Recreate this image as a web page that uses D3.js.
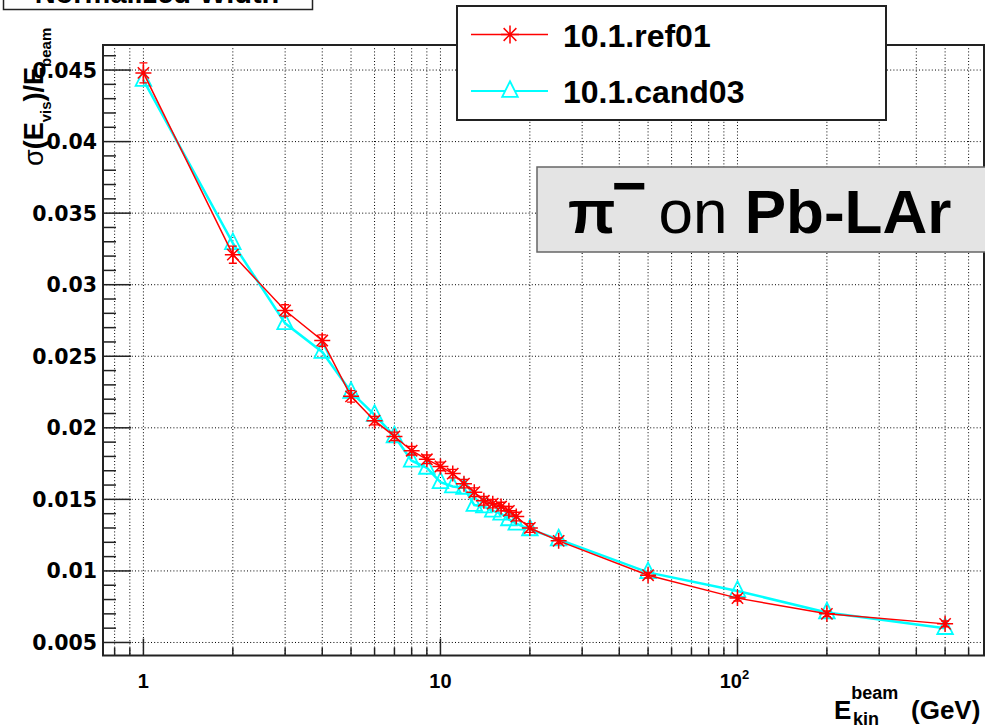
<!DOCTYPE html>
<html><head><meta charset="utf-8">
<script src="https://cdn.jsdelivr.net/npm/d3@7"></script>
<style>body{margin:0;background:#fff}svg{display:block}text{font-family:"Liberation Sans",Arial,sans-serif}</style>
</head><body>
<script>
// ---- data ----
const energies = [1,2,3,4,5,6,7,8,9,10,11,12,13,14,15,16,17,18,20,25,50,100,200,500];
const ref01   = [0.0448,0.0321,0.0282,0.0261,0.0222,0.0205,0.0194,0.0184,0.0178,0.0173,0.0168,0.0161,0.0155,0.0149,0.0147,0.0145,0.0142,0.0138,0.0130,0.0121,0.0097,0.0081,0.0070,0.0063];
const ref01Err= [0.0007,0.0006,0.0004,0.0004,0.0004,0.0003,0.0003,0.0003,0.0003,0.0003,0.0003,0.0003,0.0003,0.0003,0.0003,0.0003,0.0003,0.0003,0.0003,0.0002,0.0002,0.0002,0.0002,0.0002];
const cand03  = [0.0443,0.0329,0.0273,0.0253,0.0225,0.0209,0.0194,0.0177,0.0172,0.0162,0.0159,0.0158,0.0146,0.0145,0.0142,0.0140,0.0136,0.0133,0.0129,0.0122,0.0099,0.0086,0.0071,0.0060];
const seriesNames = ["10.1.ref01","10.1.cand03"];
const yTicks = [0.005,0.01,0.015,0.02,0.025,0.03,0.035,0.04,0.045];
const yTickLabels = ["0.005","0.01","0.015","0.02","0.025","0.03","0.035","0.04","0.045"];
const yMinor = [0.006,0.007,0.008,0.009,0.011,0.012,0.013,0.014,0.016,0.017,0.018,0.019,0.021,0.022,0.023,0.024,0.026,0.027,0.028,0.029,0.031,0.032,0.033,0.034,0.036,0.037,0.038,0.039,0.041,0.042,0.043,0.044,0.046];
const xTicks = [1,10,100];
const xTickBase = ["1","10","10"];
const xTickExp = ["","","2"];
const xMinor = [0.8,0.9,2,3,4,5,6,7,8,9,20,30,40,50,60,70,80,90,200,300,400,500,600];

const W=985,H=728;
const L=103,R=984,T=45,B=655.5;
const svg=d3.select("body").append("svg").attr("width",W).attr("height",H);
const x=d3.scaleLog().domain([0.731,676]).range([L,R]);
const y=d3.scaleLinear().domain([0.00409,0.04675]).range([B,T]);

// title box (cut at top, as in the original)
svg.append("rect").attr("x",3.5).attr("y",-30).attr("width",309).attr("height",39.5)
  .attr("fill","#fff").attr("stroke","#222").attr("stroke-width",1.5);
svg.append("text").attr("x",157).attr("y",3).attr("text-anchor","middle")
  .attr("font-size",29).attr("font-weight","bold").text("Normalized Width");

// grid
const g=svg.append("g");
g.selectAll("line.vg").data(xTicks.concat(xMinor)).enter().append("line")
  .attr("x1",d=>x(d)).attr("x2",d=>x(d)).attr("y1",T).attr("y2",B)
  .attr("stroke","#000").attr("stroke-width",1).attr("stroke-dasharray","1,2.2");
g.selectAll("line.hg").data(yTicks).enter().append("line")
  .attr("y1",d=>y(d)).attr("y2",d=>y(d)).attr("x1",L).attr("x2",R)
  .attr("stroke","#000").attr("stroke-width",1).attr("stroke-dasharray","1,2.2");

// axes ticks
const ax=svg.append("g").attr("stroke","#222").attr("stroke-width",1.5);
ax.selectAll("line.ym").data(yTicks).enter().append("line")
  .attr("x1",L).attr("x2",L+28).attr("y1",d=>y(d)).attr("y2",d=>y(d));
ax.selectAll("line.yn").data(yMinor).enter().append("line")
  .attr("x1",L).attr("x2",L+13).attr("y1",d=>y(d)).attr("y2",d=>y(d));
ax.selectAll("line.xm").data(xTicks).enter().append("line")
  .attr("x1",d=>x(d)).attr("x2",d=>x(d)).attr("y1",B).attr("y2",B-17);
ax.selectAll("line.xn").data(xMinor).enter().append("line")
  .attr("x1",d=>x(d)).attr("x2",d=>x(d)).attr("y1",B).attr("y2",B-8);

// frame
svg.append("rect").attr("x",L).attr("y",T).attr("width",R-L).attr("height",B-T)
  .attr("fill","none").attr("stroke","#222").attr("stroke-width",2);

// tick labels
svg.selectAll("text.yl").data(yTicks).enter().append("text")
  .attr("x",97).attr("y",d=>y(d)+7.5).attr("text-anchor","end")
  .style("font-family",'"DejaVu Sans",sans-serif')
  .attr("font-size",20.5).attr("font-weight","bold").text((d,i)=>yTickLabels[i]);
const xl=svg.selectAll("text.xl").data(xTicks).enter().append("text")
  .attr("x",(d,i)=>x(d)+(xTickExp[i]?-3:0)).attr("y",688).attr("text-anchor","middle")
  .attr("font-size",20).attr("font-weight","bold");
xl.append("tspan").text((d,i)=>xTickBase[i]);
xl.append("tspan").attr("dy",-9).attr("font-size",13).text((d,i)=>xTickExp[i]);

// axis titles
const yt=svg.append("text").attr("transform","translate(43,166) rotate(-90)")
  .attr("font-size",27).attr("font-weight","bold");
yt.append("tspan").attr("font-weight","normal").text("σ");
yt.append("tspan").text("(E");
yt.append("tspan").attr("font-size",15).attr("dy",8).text("vis");
yt.append("tspan").attr("dy",-8).text(")/E");
yt.append("tspan").attr("font-size",15).attr("dy",8).text("beam");

const xt=svg.append("text").attr("x",834).attr("y",719).attr("font-size",26).attr("font-weight","bold");
xt.append("tspan").text("E");
xt.append("tspan").attr("font-size",18).attr("dy",-20).text("beam");
xt.append("tspan").attr("font-size",18).attr("x",853).attr("dy",26).text("kin");
xt.append("tspan").attr("x",911).attr("dy",-6).text("(GeV)");

// data
function starPath(cx,cy,r){
  const d=r*0.707;
  return `M${cx-r},${cy}L${cx+r},${cy}M${cx},${cy-r}L${cx},${cy+r}M${cx-d},${cy-d}L${cx+d},${cy+d}M${cx-d},${cy+d}L${cx+d},${cy-d}`;
}
function triPath(cx,cy,s){
  return `M${cx},${cy-s*0.75}L${cx+s*0.6},${cy+s*0.45}L${cx-s*0.6},${cy+s*0.45}Z`;
}
const line=d3.line().x(d=>x(d[0])).y(d=>y(d[1]));
const cData=energies.map((e,i)=>[e,cand03[i]]);
const rData=energies.map((e,i)=>[e,ref01[i]]);
svg.append("path").datum(cData).attr("d",line).attr("fill","none").attr("stroke","#00ffff").attr("stroke-width",2.5);
svg.selectAll("path.tri").data(cData).enter().append("path")
  .attr("d",d=>triPath(x(d[0]),y(d[1]),13)).attr("fill","none").attr("stroke","#00ffff").attr("stroke-width",1.8);
svg.append("path").datum(rData).attr("d",line).attr("fill","none").attr("stroke","#ff0000").attr("stroke-width",1.5);
svg.selectAll("path.err").data(rData).enter().append("path")
  .attr("d",(d,i)=>{const cx=x(d[0]),y1=y(d[1]+ref01Err[i]),y2=y(d[1]-ref01Err[i]);
    return `M${cx},${y1}L${cx},${y2}M${cx-4},${y1}L${cx+4},${y1}M${cx-4},${y2}L${cx+4},${y2}`;})
  .attr("stroke","#ff0000").attr("stroke-width",1.3).attr("fill","none");
svg.selectAll("path.star").data(rData).enter().append("path")
  .attr("d",d=>starPath(x(d[0]),y(d[1]),8)).attr("stroke","#ff0000").attr("stroke-width",1.5).attr("fill","none");

// legend
svg.append("rect").attr("x",457).attr("y",6).attr("width",429).attr("height",114)
  .attr("fill","#fff").attr("stroke","#222").attr("stroke-width",2);
svg.append("line").attr("x1",471).attr("x2",548).attr("y1",34.5).attr("y2",34.5).attr("stroke","#ff0000").attr("stroke-width",1.5);
svg.append("path").attr("d",starPath(510,34.5,9)).attr("stroke","#ff0000").attr("stroke-width",1.5);
svg.append("line").attr("x1",471).attr("x2",548).attr("y1",91).attr("y2",91).attr("stroke","#00ffff").attr("stroke-width",2);
svg.append("path").attr("d",triPath(510,91,13)).attr("fill","#fff").attr("stroke","#00ffff").attr("stroke-width",1.8);
svg.selectAll("text.leg").data(seriesNames).enter().append("text")
  .attr("x",563).attr("y",(d,i)=>i?103:47).attr("font-size",32).attr("font-weight","bold").text(d=>d);

// label box
svg.append("rect").attr("x",537).attr("y",167).attr("width",460).attr("height",85)
  .attr("fill","#e4e4e4").attr("stroke","#666").attr("stroke-width",1.5);
const lb=svg.append("text").attr("x",568).attr("y",232.5).attr("font-size",62);
lb.append("tspan").attr("font-weight","bold").text("π");
lb.append("tspan").attr("font-weight","bold").attr("font-size",60).attr("dy",-27).attr("dx",-4).text("−");
lb.append("tspan").attr("dy",27).attr("dx",12).text("on ");
lb.append("tspan").attr("font-weight","bold").text("Pb-LAr");
</script>
</body></html>
